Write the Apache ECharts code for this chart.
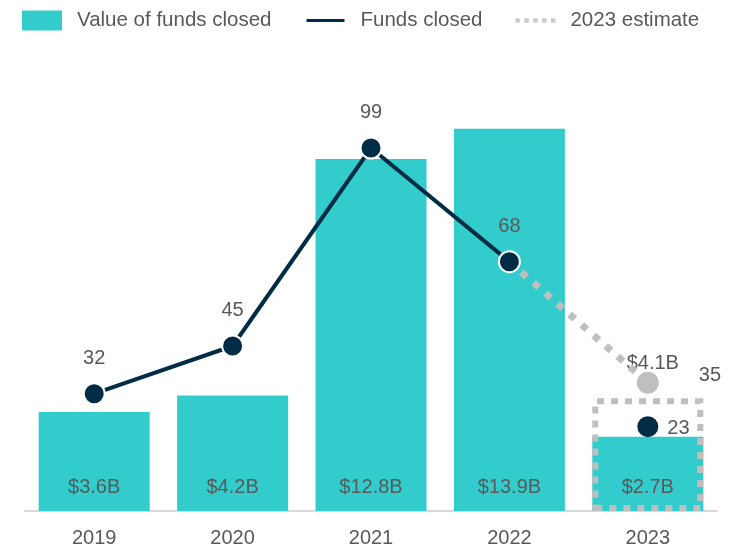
<!DOCTYPE html>
<html>
<head>
<meta charset="utf-8">
<script src="https://cdn.jsdelivr.net/npm/echarts@6/dist/echarts.min.js"></script>
<style>
  html, body { margin: 0; padding: 0; background: #fff; }
  #chart { width: 748px; height: 555px; }
</style>
</head>
<body>
<div id="chart"></div>
<script>
// data
const years = ['2019', '2020', '2021', '2022', '2023']
const fundValue = [3.6, 4.2, 12.8, 13.9, 2.7] // $B
const fundsClosed = [32, 45, 99, 68, 23]
const estimateValue = 4.1 // $B, 2023
const estimateFunds = 35 // 2023

const teal = '#33CCCC'
const navy = '#002D45'
const grey = '#BFBFBF'
const textGrey = '#595959'
const font = 'Liberation Sans'
const fs = 20

const chart = echarts.init(document.getElementById('chart'))

const last = years.length - 1
// estimate box only on 2023, estimate line from 2022 -> 2023
const boxData = years.map((y, i) => (i === last ? estimateValue : '-'))
const estLineData = years.map((y, i) => {
  if (i === last - 1) return { value: fundsClosed[i], symbol: 'none' }
  if (i === last) {
    return {
      value: estimateFunds,
      symbol: 'circle',
      symbolSize: 22,
      label: { show: true, position: 'right', distance: 40, offset: [0, -7] },
    }
  }
  return '-'
})
// solid line stops at 2022, the 2023 actual is a lone point
const lineData = fundsClosed.map((v, i) => (i === last ? '-' : v))
const lonePoint = fundsClosed.map((v, i) => (i === last ? v : '-'))

const fmtB = (p) => '$' + p.value.toFixed(1) + 'B'

chart.setOption({
  animation: false,
  textStyle: { fontFamily: font },
  legend: {
    left: 17,
    top: 5,
    itemWidth: 40,
    itemHeight: 20,
    itemGap: 33,
    textStyle: { fontSize: 20.5, color: textGrey, fontFamily: font, padding: [0, 0, 0, 10] },
    data: [
      { name: 'Value of funds closed', icon: 'rect' },
      { name: 'Funds closed', icon: 'path://M0,0H40V5H0Z' },
      {
        name: '2023 estimate',
        icon: 'path://M0,0H4V4H0Z M8,0H12V4H8Z M16,0H20V4H16Z M24,0H28V4H24Z M32,0H36V4H32Z',
        itemStyle: { color: '#C6CCD4' },
      },
    ],
  },
  grid: { left: 25, right: 31, top: 71, bottom: 44 },
  xAxis: {
    type: 'category',
    data: years,
    axisLine: { lineStyle: { color: '#D9D9D9', width: 2 } },
    axisTick: { show: false },
    axisLabel: { fontSize: fs, color: textGrey, margin: 17, fontFamily: font },
  },
  yAxis: [
    { type: 'value', min: 0, max: 16, show: false, splitLine: { show: false } },
    { type: 'value', min: 0, max: 120, show: false, splitLine: { show: false } },
  ],
  series: [
    {
      name: 'Value of funds closed',
      type: 'bar',
      data: fundValue,
      barWidth: 111,
      barGap: '-100%',
      z: 2,
      itemStyle: { color: teal },
      label: {
        show: true,
        position: 'insideBottom',
        distance: 14,
        fontSize: fs,
        color: textGrey,
        formatter: fmtB,
      },
    },
    {
      name: 'est-box',
      type: 'bar',
      data: boxData,
      barWidth: 111,
      barGap: '-100%',
      z: 3,
      itemStyle: {
        color: 'rgba(0,0,0,0)',
        borderColor: grey,
        borderWidth: 6,
        borderType: [7, 7],
      },
      label: {
        show: true,
        position: 'top',
        distance: 25,
        offset: [5, 0],
        fontSize: fs,
        color: textGrey,
        formatter: fmtB,
      },
    },
    {
      name: '2023 estimate',
      type: 'line',
      yAxisIndex: 1,
      data: estLineData,
      symbol: 'none',
      showSymbol: true,
      z: 4,
      lineStyle: { color: grey, width: 7, type: [7, 9] },
      itemStyle: { color: grey },
      label: { show: false, fontSize: fs, color: textGrey },
    },
    {
      name: 'Funds closed',
      type: 'line',
      yAxisIndex: 1,
      data: lineData,
      symbol: 'circle',
      symbolSize: 21,
      z: 5,
      lineStyle: { color: navy, width: 4 },
      itemStyle: { color: navy, borderColor: '#fff', borderWidth: 2 },
      label: { show: true, position: 'top', distance: 14, fontSize: fs, color: textGrey },
    },
    {
      name: 'funds-2023',
      type: 'scatter',
      yAxisIndex: 1,
      data: lonePoint,
      symbol: 'circle',
      symbolSize: 21,
      z: 5,
      itemStyle: { color: navy, opacity: 1 },
      label: { show: true, position: 'right', distance: 9, offset: [0, 2], fontSize: fs, color: textGrey },
    },
  ],
})
</script>
</body>
</html>
